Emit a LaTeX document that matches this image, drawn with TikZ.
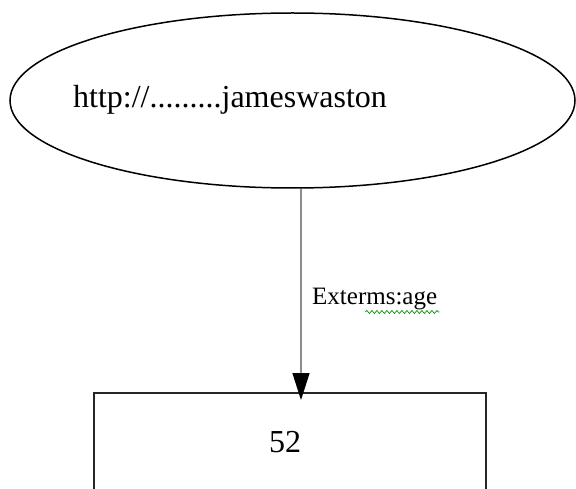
\documentclass[tikz,border=0pt]{standalone}
\usepackage{fontspec}
\setmainfont{Liberation Serif}
\usetikzlibrary{shapes.geometric,arrows.meta,decorations.pathmorphing}

\tikzset{
  resource/.style={ellipse, draw, line width=1.5pt, inner sep=0pt,
    minimum width=565pt, minimum height=175pt},
  literal/.style={rectangle, draw=black!85, line width=2pt, inner sep=0pt,
    minimum width=392pt, minimum height=200pt},
  bigtext/.style={font=\fontsize{32}{38}\selectfont, inner sep=0pt},
  edgetext/.style={font=\fontsize{25}{29}\selectfont, inner sep=0pt},
  relation/.style={draw=black!45, line width=1.5pt,
    -{Triangle[length=27pt,width=17pt,color=black]}}
}

\begin{document}
\begin{tikzpicture}[x=1pt,y=-1pt]
  \useasboundingbox (0,0) rectangle (576,489);
  \clip (0,0) rectangle (576,489);

  \node[resource] (uri) at (292.5,100.5) {};
  \node[bigtext] (uritext) at (230,100) {http://.........jameswaston};

  \node[literal, anchor=north] (val) at (290,392) {};
  \node[bigtext] (valtext) at (285,442) {52};

  \coordinate (tip) at (301,400);
  \draw[relation] (uri.south -| tip) -- (tip);

  \node[edgetext, anchor=west] (prop) at (312,299) {Exterms:age};
  % spelling squiggle under the property name
  \draw[green!55!black, line width=0.7pt,
    decorate, decoration={snake, amplitude=1.5pt, segment length=5pt}]
    ([xshift=-72pt,yshift=-13pt]prop.east) -- ([xshift=2pt,yshift=-13pt]prop.east);
\end{tikzpicture}
\end{document}
